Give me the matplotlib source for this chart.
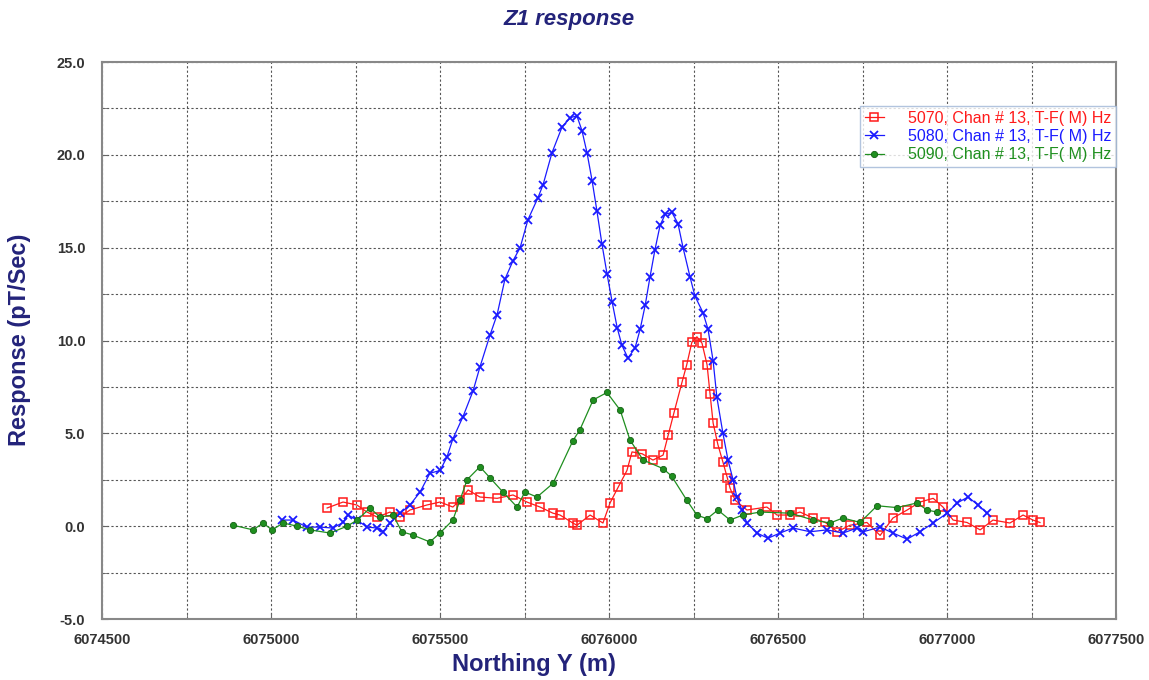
import numpy as np
import matplotlib
matplotlib.use("Agg")
import matplotlib.pyplot as plt

plt.rcParams['font.family'] = ['Liberation Sans', 'DejaVu Sans']

# Line 5070 (red)
x_5070 = [6075166, 6075213, 6075254, 6075284, 6075314, 6075352, 6075382, 6075411,
          6075461, 6075500, 6075538, 6075559, 6075583, 6075618, 6075669, 6075716,
          6075757, 6075796, 6075834, 6075855, 6075893, 6075905, 6075944, 6075982,
          6076003, 6076027, 6076053, 6076068, 6076098, 6076130, 6076160, 6076175,
          6076192, 6076216, 6076230, 6076245, 6076260, 6076275, 6076290, 6076299,
          6076308, 6076322, 6076337, 6076350, 6076358, 6076373, 6076408, 6076467,
          6076497, 6076536, 6076565, 6076604, 6076640, 6076675, 6076713, 6076763,
          6076802, 6076840, 6076882, 6076920, 6076959, 6076988, 6077018, 6077059,
          6077098, 6077136, 6077186, 6077225, 6077254, 6077275]
y_5070 = [0.98, 1.3, 1.14, 0.76, 0.49, 0.76, 0.49, 0.87,
          1.14, 1.3, 1.03, 1.4, 1.95, 1.57, 1.5, 1.68,
          1.3, 1.03, 0.7, 0.6, 0.17, 0.05, 0.6, 0.17,
          1.25, 2.1, 3.0, 4.0, 3.9, 3.56, 3.83, 4.9,
          6.1, 7.76, 8.7, 9.9, 10.2, 9.86, 8.7, 7.1,
          5.55, 4.4, 3.45, 2.6, 2.05, 1.4, 0.87, 1.03,
          0.6, 0.6, 0.76, 0.44, 0.2, -0.3, 0.05, 0.2,
          -0.5, 0.44, 0.87, 1.3, 1.5, 1.03, 0.33, 0.2,
          -0.2, 0.33, 0.17, 0.6, 0.33, 0.2]

# Line 5080 (blue)
x_5080 = [6075032, 6075065, 6075106, 6075145, 6075183, 6075213, 6075228, 6075254,
          6075284, 6075314, 6075331, 6075352, 6075382, 6075411, 6075441, 6075470,
          6075500, 6075520, 6075538, 6075568, 6075598, 6075618, 6075648, 6075669,
          6075692, 6075716, 6075737, 6075760, 6075790, 6075805, 6075831, 6075861,
          6075885, 6075905, 6075920, 6075935, 6075950, 6075964, 6075979, 6075994,
          6076009, 6076024, 6076038, 6076056, 6076077, 6076092, 6076107, 6076121,
          6076136, 6076151, 6076166, 6076186, 6076204, 6076219, 6076240, 6076254,
          6076278, 6076293, 6076308, 6076319, 6076337, 6076352, 6076367, 6076378,
          6076393, 6076408, 6076438, 6076470, 6076506, 6076544, 6076595, 6076645,
          6076692, 6076734, 6076752, 6076802, 6076840, 6076882, 6076920, 6076959,
          6077000, 6077030, 6077062, 6077092, 6077118]
y_5080 = [0.33, 0.33, -0.05, -0.05, -0.1, 0.2, 0.6, 0.33,
          -0.05, -0.1, -0.3, 0.17, 0.7, 1.14, 1.84, 2.85,
          3.0, 3.7, 4.7, 5.9, 7.3, 8.57, 10.3, 11.4,
          13.3, 14.3, 15.0, 16.5, 17.7, 18.4, 20.1, 21.5,
          22.0, 22.1, 21.3, 20.1, 18.6, 17.0, 15.2, 13.6,
          12.1, 10.7, 9.75, 9.05, 9.6, 10.6, 11.9, 13.4,
          14.9, 16.2, 16.8, 16.9, 16.3, 15.0, 13.4, 12.4,
          11.5, 10.6, 8.9, 6.95, 5.0, 3.56, 2.5, 1.57,
          0.87, 0.17, -0.37, -0.65, -0.37, -0.1, -0.3, -0.2,
          -0.37, -0.1, -0.3, -0.05, -0.37, -0.7, -0.3, 0.17,
          0.7, 1.25, 1.57, 1.14, 0.7]

# Line 5090 (green)
x_5090 = [6074888, 6074947, 6074976, 6075003, 6075036, 6075077, 6075115, 6075175,
          6075225, 6075255, 6075293, 6075322, 6075361, 6075387, 6075420, 6075470,
          6075500, 6075538, 6075559, 6075580, 6075618, 6075648, 6075686, 6075728,
          6075751, 6075787, 6075834, 6075893, 6075914, 6075953, 6075994, 6076033,
          6076062, 6076101, 6076160, 6076185, 6076230, 6076260, 6076290, 6076322,
          6076358, 6076396, 6076447, 6076536, 6076604, 6076654, 6076692, 6076743,
          6076793, 6076852, 6076911, 6076941, 6076970]
y_5090 = [0.05, -0.2, 0.17, -0.2, 0.17, 0.0, -0.2, -0.37,
          0.0, 0.33, 0.98, 0.49, 0.6, -0.3, -0.48, -0.85,
          -0.37, 0.33, 1.4, 2.5, 3.2, 2.6, 1.84, 1.03,
          1.84, 1.57, 2.3, 4.6, 5.2, 6.8, 7.2, 6.25,
          4.64, 3.56, 3.1, 2.7, 1.4, 0.6, 0.4, 0.87,
          0.33, 0.6, 0.76, 0.7, 0.33, 0.17, 0.44, 0.2,
          1.1, 1.0, 1.25, 0.87, 0.76]

labels = ["5070, Chan # 13, T-F( M) Hz",
          "5080, Chan # 13, T-F( M) Hz",
          "5090, Chan # 13, T-F( M) Hz"]
c_red = '#ff1a1a'
c_blue = '#1a1aff'
c_green = '#1f8f1f'
navy = '#23237a'

fig = plt.figure(figsize=(11.49, 6.8), dpi=100)
ax = fig.add_axes([0.0888, 0.0897, 0.8825, 0.8191])

ax.plot(x_5070, y_5070, color=c_red, lw=0.9, marker='s', ms=6, mfc='none',
        mec=c_red, mew=1.1, label=labels[0])
ax.plot(x_5080, y_5080, color=c_blue, lw=0.9, marker='x', ms=5.5, mec=c_blue,
        mew=1.3, label=labels[1])
ax.plot(x_5090, y_5090, color=c_green, lw=0.9, marker='o', ms=4.5, mfc=c_green,
        mec='#146014', mew=0.6, label=labels[2])

ax.set_xlim(6074500, 6077500)
ax.set_ylim(-5, 25)
ax.set_xticks(np.arange(6074500, 6077501, 500))
ax.set_xticks(np.arange(6074500, 6077501, 250), minor=True)
ax.set_yticks(np.arange(-5, 25.1, 5))
ax.set_yticks(np.arange(-5, 25.1, 2.5), minor=True)
ax.set_xticklabels([str(v) for v in range(6074500, 6077501, 500)])
ax.set_yticklabels(['%.1f' % v for v in np.arange(-5, 25.1, 5)])
ax.grid(True, which='both', color='#555555', ls=(0, (2, 2)), lw=0.8)
ax.tick_params(which='both', direction='in', length=4, color='#666666')
ax.tick_params(axis='x', pad=10, labelsize=10.5, labelcolor='#333333')
ax.tick_params(axis='y', pad=12, labelsize=10.5, labelcolor='#333333')
for lab in ax.get_xticklabels() + ax.get_yticklabels():
    lab.set_fontweight('bold')
for sp in ax.spines.values():
    sp.set_color('#888888')
    sp.set_linewidth(1.5)

fig.text(569 / 1149, 1 - 19 / 680, 'Z1 response', ha='center', va='center',
         fontsize=16, fontweight='bold', fontstyle='italic', color=navy)
fig.text(534 / 1149, 1 - 664 / 680, 'Northing Y (m)', ha='center', va='center',
         fontsize=17, fontweight='bold', color=navy)
fig.text(20 / 1149, 1 - 340 / 680, 'Response (pT/Sec)', ha='center', va='center',
         rotation=90, fontsize=17, fontweight='bold', color=navy)

leg = ax.legend(loc='upper left', bbox_to_anchor=(0.7475, 0.921), fontsize=11.5,
                frameon=True, fancybox=False, borderpad=0.3, labelspacing=0.2,
                handlelength=1.2, handletextpad=1.5, borderaxespad=0)
leg.get_frame().set_edgecolor('#9fb6d6')
leg.get_frame().set_linewidth(1.0)
for txt, col in zip(leg.get_texts(), [c_red, c_blue, c_green]):
    txt.set_color(col)

fig.savefig('out.png', dpi=100)
